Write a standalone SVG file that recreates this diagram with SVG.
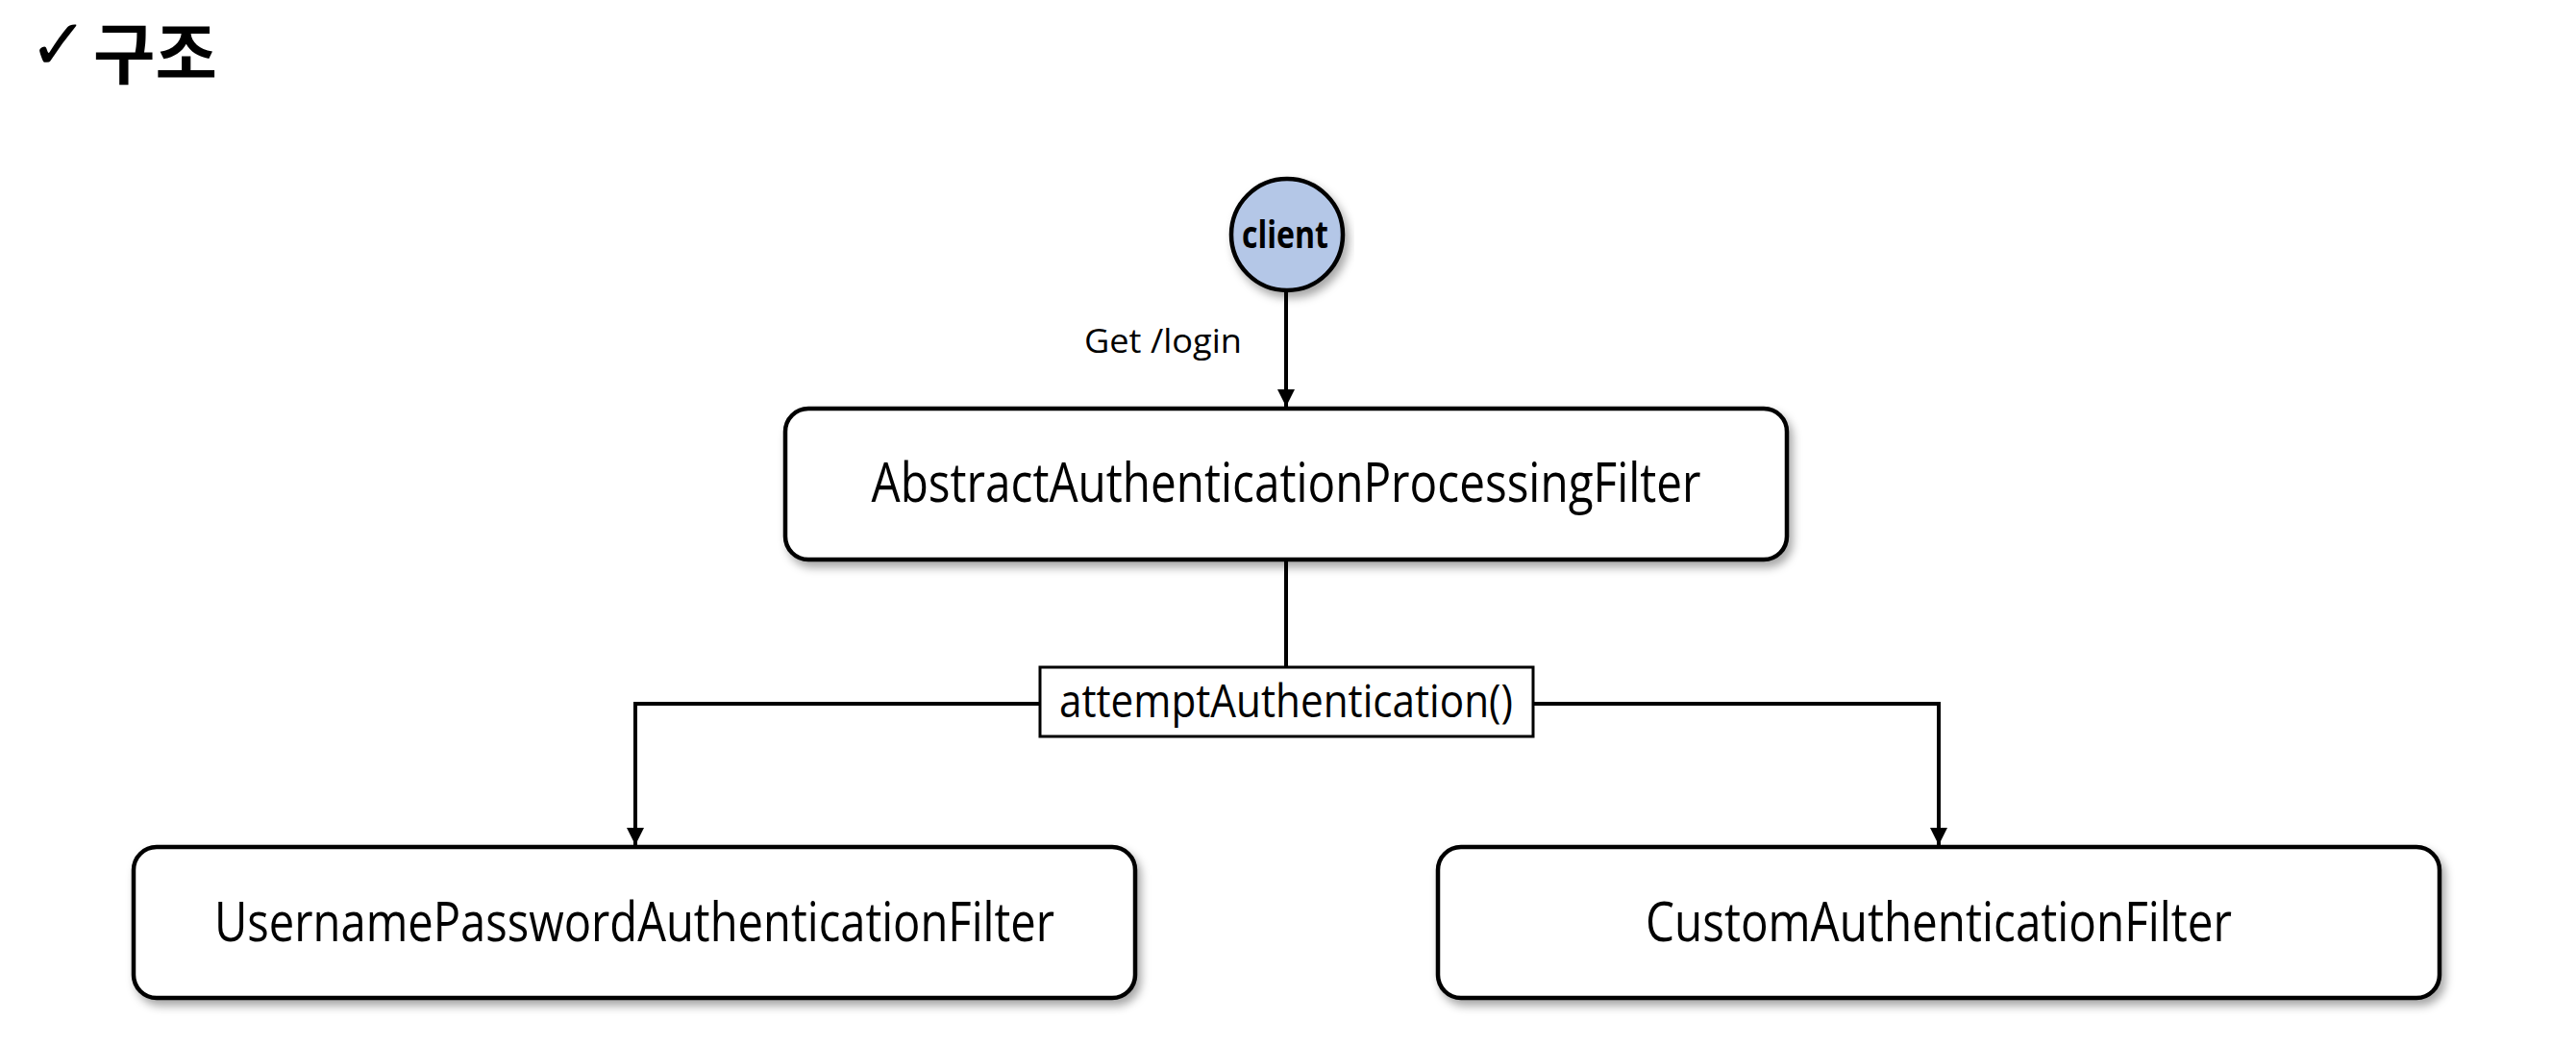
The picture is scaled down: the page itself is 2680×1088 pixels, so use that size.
<svg xmlns="http://www.w3.org/2000/svg" width="2680" height="1088" viewBox="0 0 2680 1088">
<style>
.box{fill:#ffffff;stroke:#000000;stroke-width:4.5;filter:url(#sh)}
.lbl{font-family:"Open Sans","Noto Sans",sans-serif;fill:#000;text-anchor:middle}
.conn{fill:none;stroke:#000;stroke-width:4}
</style>
<defs>
<filter id="sh" x="-10%" y="-20%" width="120%" height="150%">
<feDropShadow dx="4" dy="6" stdDeviation="5" flood-color="#000" flood-opacity="0.35"/>
</filter>
<marker id="arr" markerUnits="userSpaceOnUse" markerWidth="18" markerHeight="18" refX="18" refY="9" orient="auto">
<path d="M0,0 L18,9 L0,18 z" fill="#000"/>
</marker>
</defs>
<rect width="2680" height="1088" fill="#ffffff"/>
<g id="title">
<text x="30" y="72" font-family="DejaVu Sans,sans-serif" font-size="74" font-weight="bold" fill="#000">✓</text>
<text x="97" y="82" font-family="'Noto Sans CJK KR',sans-serif" font-size="70" font-weight="bold" fill="#000">구조</text>
</g>
<g id="connectors">
<line class="conn" x1="1338" y1="302" x2="1338" y2="423" marker-end="url(#arr)"/>
<line class="conn" x1="1338" y1="583" x2="1338" y2="693"/>
<path class="conn" d="M1081,732 H661 V879" marker-end="url(#arr)"/>
<path class="conn" d="M1596,732 H2017 V879" marker-end="url(#arr)"/>
<text class="lbl" x="1210" y="367" font-size="34" textLength="164" lengthAdjust="spacingAndGlyphs">Get /login</text>
</g>
<g id="client">
<circle cx="1339" cy="244" r="58" fill="#b4c7e7" stroke="#000" stroke-width="4.5" filter="url(#sh)"/>
<text class="lbl" x="1337" y="258" font-size="40" font-weight="bold" textLength="90" lengthAdjust="spacingAndGlyphs">client</text>
</g>
<g id="abstract">
<rect class="box" x="817" y="425" width="1042" height="157" rx="24"/>
<text class="lbl" x="1338" y="522" font-size="56" textLength="863" lengthAdjust="spacingAndGlyphs">AbstractAuthenticationProcessingFilter</text>
</g>
<g id="attempt">
<rect x="1082" y="694" width="513" height="72" fill="#fff" stroke="#000" stroke-width="3"/>
<text class="lbl" x="1338" y="746" font-size="48" textLength="472" lengthAdjust="spacingAndGlyphs">attemptAuthentication()</text>
</g>
<g id="username">
<rect class="box" x="139" y="881" width="1042" height="157" rx="24"/>
<text class="lbl" x="660" y="979" font-size="56" textLength="874" lengthAdjust="spacingAndGlyphs">UsernamePasswordAuthenticationFilter</text>
</g>
<g id="custom">
<rect class="box" x="1496" y="881" width="1042" height="157" rx="24"/>
<text class="lbl" x="2017" y="979" font-size="56" textLength="610" lengthAdjust="spacingAndGlyphs">CustomAuthenticationFilter</text>
</g>
</svg>
